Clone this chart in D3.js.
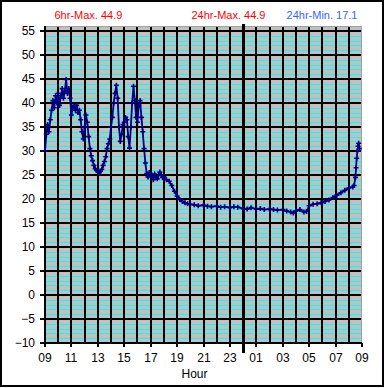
<!DOCTYPE html>
<html><head><meta charset="utf-8">
<script src="https://cdn.jsdelivr.net/npm/d3@7"></script>
<style>body{margin:0;background:#fff}svg{display:block}</style>
</head><body><svg id="c" width="385" height="388"></svg>
<script>
// hours elapsed since 09:00 (start of the 24h window)
const hours = [
 0.0,0.1,0.2,0.3,0.4,0.5,0.6,0.7,0.8,0.9,
 1.0,1.1,1.2,1.3,1.4,1.5,1.6,1.7,1.8,1.9,
 2.0,2.1,2.2,2.3,2.4,2.5,2.6,2.7,2.8,2.9,
 3.0,3.1,3.2,3.3,3.4,3.5,3.6,3.7,3.8,3.9,
 4.0,4.1,4.2,4.3,4.4,4.5,4.6,4.7,4.8,4.9,
 5.0,5.1,5.2,5.3,5.4,5.5,5.6,5.7,5.8,5.9,
 6.0,6.1,6.2,6.3,6.4,6.5,6.6,6.7,6.8,6.9,
 7.0,7.1,7.2,7.3,7.4,7.5,7.6,7.7,7.8,7.9,
 8.0,8.1,8.2,8.3,8.4,8.5,8.6,8.7,8.8,8.9,
 9.0,9.2,9.4,9.6,9.8,10.0,10.2,10.4,10.6,10.8,
 11.0,11.3,11.6,12.0,12.3,12.6,13.0,13.3,13.6,14.0,
 14.3,14.6,15.0,15.3,15.6,16.0,16.3,16.6,17.0,17.3,
 17.6,18.0,18.3,18.6,18.8,19.0,19.3,19.6,19.8,20.0,
 20.3,20.6,20.9,21.2,21.5,21.8,22.1,22.4,22.7,23.0,
 23.3,23.4,23.5,23.55,23.6,23.65,23.7,23.75,23.8
];
const temps = [
 30.0,33.5,35.5,34.0,36.5,38.5,40.5,39.0,41.5,40.0,
 42.0,39.5,41.5,43.0,41.0,42.5,44.9,42.0,43.0,41.0,
 37.5,39.0,39.5,38.5,39.5,38.0,38.5,36.5,34.0,32.5,
 35.0,37.5,36.0,33.0,30.5,29.0,28.0,27.0,26.3,26.0,
 25.7,25.5,25.8,26.2,27.0,27.8,28.8,30.5,31.5,32.5,
 35.0,37.0,40.0,42.0,43.7,41.0,35.0,32.0,33.5,35.5,
 36.0,37.0,36.5,33.0,30.6,35.0,40.0,43.5,40.5,37.0,
 36.0,39.5,40.5,37.0,34.0,30.5,27.5,25.3,24.6,25.5,
 24.8,25.0,24.0,25.2,24.5,24.2,25.0,25.6,25.0,24.5,
 24.6,24.0,23.7,22.8,21.6,20.6,19.9,19.5,19.2,19.0,
 18.9,18.8,18.6,18.7,18.5,18.4,18.5,18.3,18.4,18.2,
 18.4,18.3,18.0,17.9,18.2,17.9,18.0,17.8,17.9,17.8,
 17.7,17.8,17.5,17.3,17.1,17.5,17.8,17.3,17.4,18.6,
 18.9,19.0,19.2,19.5,19.8,20.3,20.8,21.3,21.8,22.3,
 22.5,22.8,24.5,26.5,28.5,30.0,31.0,31.6,30.5
];
const xTickHours = [0,2,4,6,8,10,12,14,16,18,20,22,24];
const xTickLabels = ["09","11","13","15","17","19","21","23","01","03","05","07","09"];
const yTicks = [-10,-5,0,5,10,15,20,25,30,35,40,45,50,55];
const headerTexts = ["6hr-Max. 44.9","24hr-Max. 44.9","24hr-Min. 17.1"];
const headerColors = ["#ff0000","#ff0000","#3366ff"];
const midnightHour = 15;
const xTitle = "Hour";

const svg = d3.select("#c");
const font = "Arial, 'Liberation Sans', sans-serif";
const L = 45, R = 362, T = 26, B = 343;
const x = d3.scaleLinear().domain([0,24]).range([L,R]);
const y = d3.scaleLinear().domain([-10,56]).range([B,T+0.2]);
const ry = v => Math.round(y(v));
const rx = v => Math.round(x(v));

// outer frame
svg.append("rect").attr("x",1).attr("y",1).attr("width",382).attr("height",385)
  .attr("fill","#fff").attr("stroke","#000").attr("stroke-width",2).attr("shape-rendering","crispEdges");

// plot background
svg.append("rect").attr("x",L).attr("y",T).attr("width",R-L).attr("height",B-T).attr("fill","#c0c0c0");

// minor cyan gridlines (every 1 unit)
const minor = d3.range(-9,56).filter(v=>v%5!==0);
svg.append("g").attr("shape-rendering","crispEdges").selectAll("line").data(minor).join("line")
  .attr("x1",L).attr("x2",R).attr("y1",d=>ry(d)+0.5).attr("y2",d=>ry(d)+0.5)
  .attr("stroke","#00ffff").attr("stroke-width",1);

// major horizontal gridlines
svg.append("g").attr("shape-rendering","crispEdges").selectAll("line").data(yTicks.filter(v=>v>-10)).join("line")
  .attr("x1",L).attr("x2",R).attr("y1",d=>ry(d)).attr("y2",d=>ry(d))
  .attr("stroke","#000").attr("stroke-width",2);

// vertical hourly gridlines
svg.append("g").attr("shape-rendering","crispEdges").selectAll("line").data(d3.range(1,24)).join("line")
  .attr("x1",d=>rx(d)).attr("x2",d=>rx(d)).attr("y1",T).attr("y2",B)
  .attr("stroke","#000").attr("stroke-width",2);

// top/right subtle border
svg.append("path").attr("d",`M${L},${T+0.5}H${R-0.5}V${B}`).attr("fill","none")
  .attr("stroke","#a0a0a0").attr("stroke-width",1).attr("shape-rendering","crispEdges");

// axes
const yAxis = d3.axisLeft(y).tickValues(yTicks).tickSize(5).tickSizeOuter(0).tickPadding(5);
const gy = svg.append("g").attr("transform",`translate(${L},0)`).call(yAxis);
gy.select(".domain").attr("stroke","#000").attr("stroke-width",2).attr("d",`M0,${T}V${B+1}`).attr("shape-rendering","crispEdges");
gy.selectAll(".tick").attr("transform",d=>`translate(0,${ry(d)})`);
gy.selectAll(".tick line").attr("stroke","#000").attr("stroke-width",2).attr("shape-rendering","crispEdges");
gy.selectAll(".tick text").attr("font-family",font).attr("font-size",12).attr("fill","#000");

const xAxis = d3.axisBottom(x).tickValues(xTickHours).tickFormat((d,i)=>xTickLabels[i])
  .tickSize(4).tickSizeOuter(0).tickPadding(6);
const gx = svg.append("g").attr("transform",`translate(0,${B})`).call(xAxis);
gx.select(".domain").attr("stroke","#000").attr("stroke-width",2).attr("d",`M${L},0H${R}`).attr("shape-rendering","crispEdges");
gx.selectAll(".tick").attr("transform",d=>`translate(${rx(d)},0)`);
gx.selectAll(".tick line").attr("stroke","#000").attr("stroke-width",2).attr("shape-rendering","crispEdges");
gx.selectAll(".tick text").attr("font-family",font).attr("font-size",12).attr("fill","#000");

// midnight line
svg.append("line").attr("x1",rx(midnightHour)).attr("x2",rx(midnightHour))
  .attr("y1",T-2).attr("y2",B+10).attr("stroke","#000").attr("stroke-width",3).attr("shape-rendering","crispEdges");

// data line + markers
const pts = hours.map((h,i)=>[h,temps[i]]);
svg.append("path").datum(pts)
  .attr("d",d3.line().x(d=>x(d[0])).y(d=>y(d[1])))
  .attr("fill","none").attr("stroke","#000080").attr("stroke-width",1.8);
svg.append("g").selectAll("path").data(pts).join("path")
  .attr("transform",d=>`translate(${x(d[0])},${y(d[1])})`)
  .attr("d","M-2.5,0H2.5M0,-2.5V2.5")
  .attr("stroke","#000080").attr("stroke-width",1.6).attr("fill","none");

// header texts
const hx = [54.5, 228.5, 357.5];
const anchors = ["start","middle","end"];
svg.append("g").selectAll("text").data(headerTexts).join("text")
  .attr("x",(d,i)=>hx[i]).attr("y",19).attr("text-anchor",(d,i)=>anchors[i])
  .attr("font-family",font).attr("font-size",11).attr("fill",(d,i)=>headerColors[i]).text(d=>d);

// x title
svg.append("text").attr("x",194.5).attr("y",378).attr("text-anchor","middle")
  .attr("font-family",font).attr("font-size",12).attr("fill","#000").text(xTitle);
</script>
</body></html>
